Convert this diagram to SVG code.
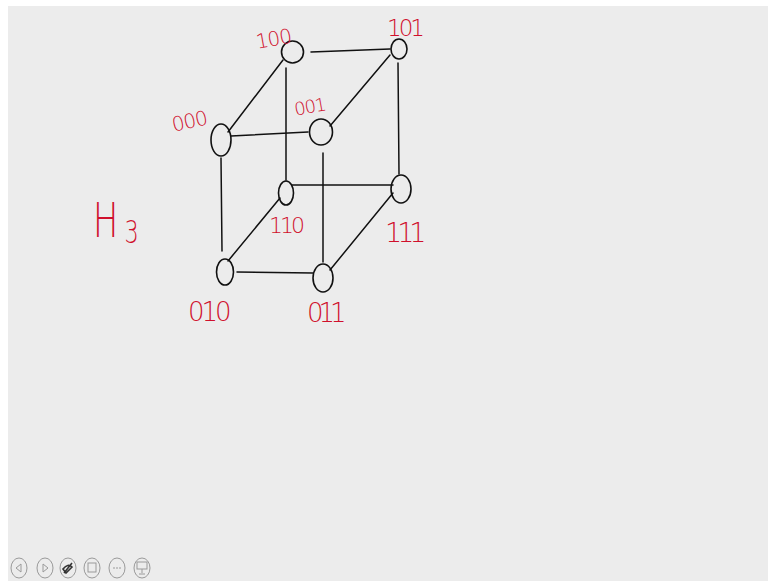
<svg xmlns="http://www.w3.org/2000/svg" width="768" height="581" viewBox="0 0 768 581">
<style>
.n{fill:none;stroke:#111;stroke-width:1.6}
.e{fill:none;stroke:#111;stroke-width:1.5;stroke-linecap:round}
.l{font-family:"DejaVu Sans","Liberation Sans",sans-serif;font-weight:300;fill:#d0102c}
.t{fill:none;stroke:#9a9a9a;stroke-width:1}
</style>
<rect width="768" height="581" fill="#ffffff"/>
<rect x="8" y="6" width="760" height="575" fill="#ececec"/>
<g id="connectors">
<path class="e" d="M311 52 L390 49"/>
<path class="e" d="M283 60 L228 132"/>
<path class="e" d="M231 136 L308 132"/>
<path class="e" d="M390 55 L330 126"/>
<path class="e" d="M286 68 L286 180"/>
<path class="e" d="M398 63 L399 174"/>
<path class="e" d="M221 158 L222 251"/>
<path class="e" d="M323 153 L323 262"/>
<path class="e" d="M292 185 L393 185"/>
<path class="e" d="M280 198 L228 261"/>
<path class="e" d="M237 272 L313 273"/>
<path class="e" d="M393 193 L330 270"/>
</g>
<g id="n100"><ellipse class="n" cx="292.5" cy="52" rx="11" ry="11"/><text class="l" x="256" y="46" font-size="20" letter-spacing="-1" transform="rotate(-10 272 40)">100</text></g>
<g id="n101"><ellipse class="n" cx="399" cy="49" rx="8" ry="10"/><text class="l" x="387" y="36" font-size="23" letter-spacing="-3">101</text></g>
<g id="n000"><ellipse class="n" cx="221" cy="140" rx="10" ry="16"/><text class="l" x="171" y="128" font-size="20" letter-spacing="-1" transform="rotate(-12 190 118)">000</text></g>
<g id="n001"><ellipse class="n" cx="321" cy="132" rx="11.5" ry="13"/><text class="l" x="294" y="113" font-size="18" letter-spacing="-1" transform="rotate(-10 310 106)">001</text></g>
<g id="n110"><ellipse class="n" cx="286" cy="193" rx="7.5" ry="12"/><text class="l" x="269" y="233" font-size="22" letter-spacing="-3">110</text></g>
<g id="n111"><ellipse class="n" cx="401" cy="189" rx="10" ry="14"/><text class="l" x="385" y="242" font-size="27" letter-spacing="-5">111</text></g>
<g id="n010"><ellipse class="n" cx="225" cy="272" rx="8.5" ry="13"/><text class="l" x="188" y="321" font-size="26" letter-spacing="-3">010</text></g>
<g id="n011"><ellipse class="n" cx="323" cy="278" rx="10" ry="14"/><text class="l" x="307" y="322" font-size="26" letter-spacing="-5">011</text></g>
<g id="title"><text class="l" transform="translate(93 237) scale(0.7 1)" font-size="48">H<tspan font-size="32" dx="9" dy="6">3</tspan></text></g>
<g id="toolbar">
<ellipse class="t" cx="19" cy="568" rx="8" ry="10"/><path class="t" d="M21 564 L16 568 L21 572 Z"/>
<ellipse class="t" cx="45" cy="568" rx="8" ry="10"/><path class="t" d="M43 564 L48 568 L43 572 Z"/>
<ellipse class="t" cx="68" cy="568" rx="8" ry="10"/><path d="M64 573 L72 563 M63 569 Q68 563 72 567 L66 573 Z" fill="none" stroke="#333" stroke-width="1.6"/>
<ellipse class="t" cx="92" cy="568" rx="8" ry="10"/><rect class="t" x="88" y="563" width="8" height="9"/>
<ellipse class="t" cx="117" cy="568" rx="8" ry="10"/><path class="t" d="M113 568 h2 M116 568 h2 M119 568 h2"/>
<ellipse class="t" cx="142" cy="568" rx="8" ry="10"/><rect class="t" x="137" y="562" width="10" height="7"/><path class="t" d="M142 569 v4 M139 574 h6"/>
</g>
</svg>
